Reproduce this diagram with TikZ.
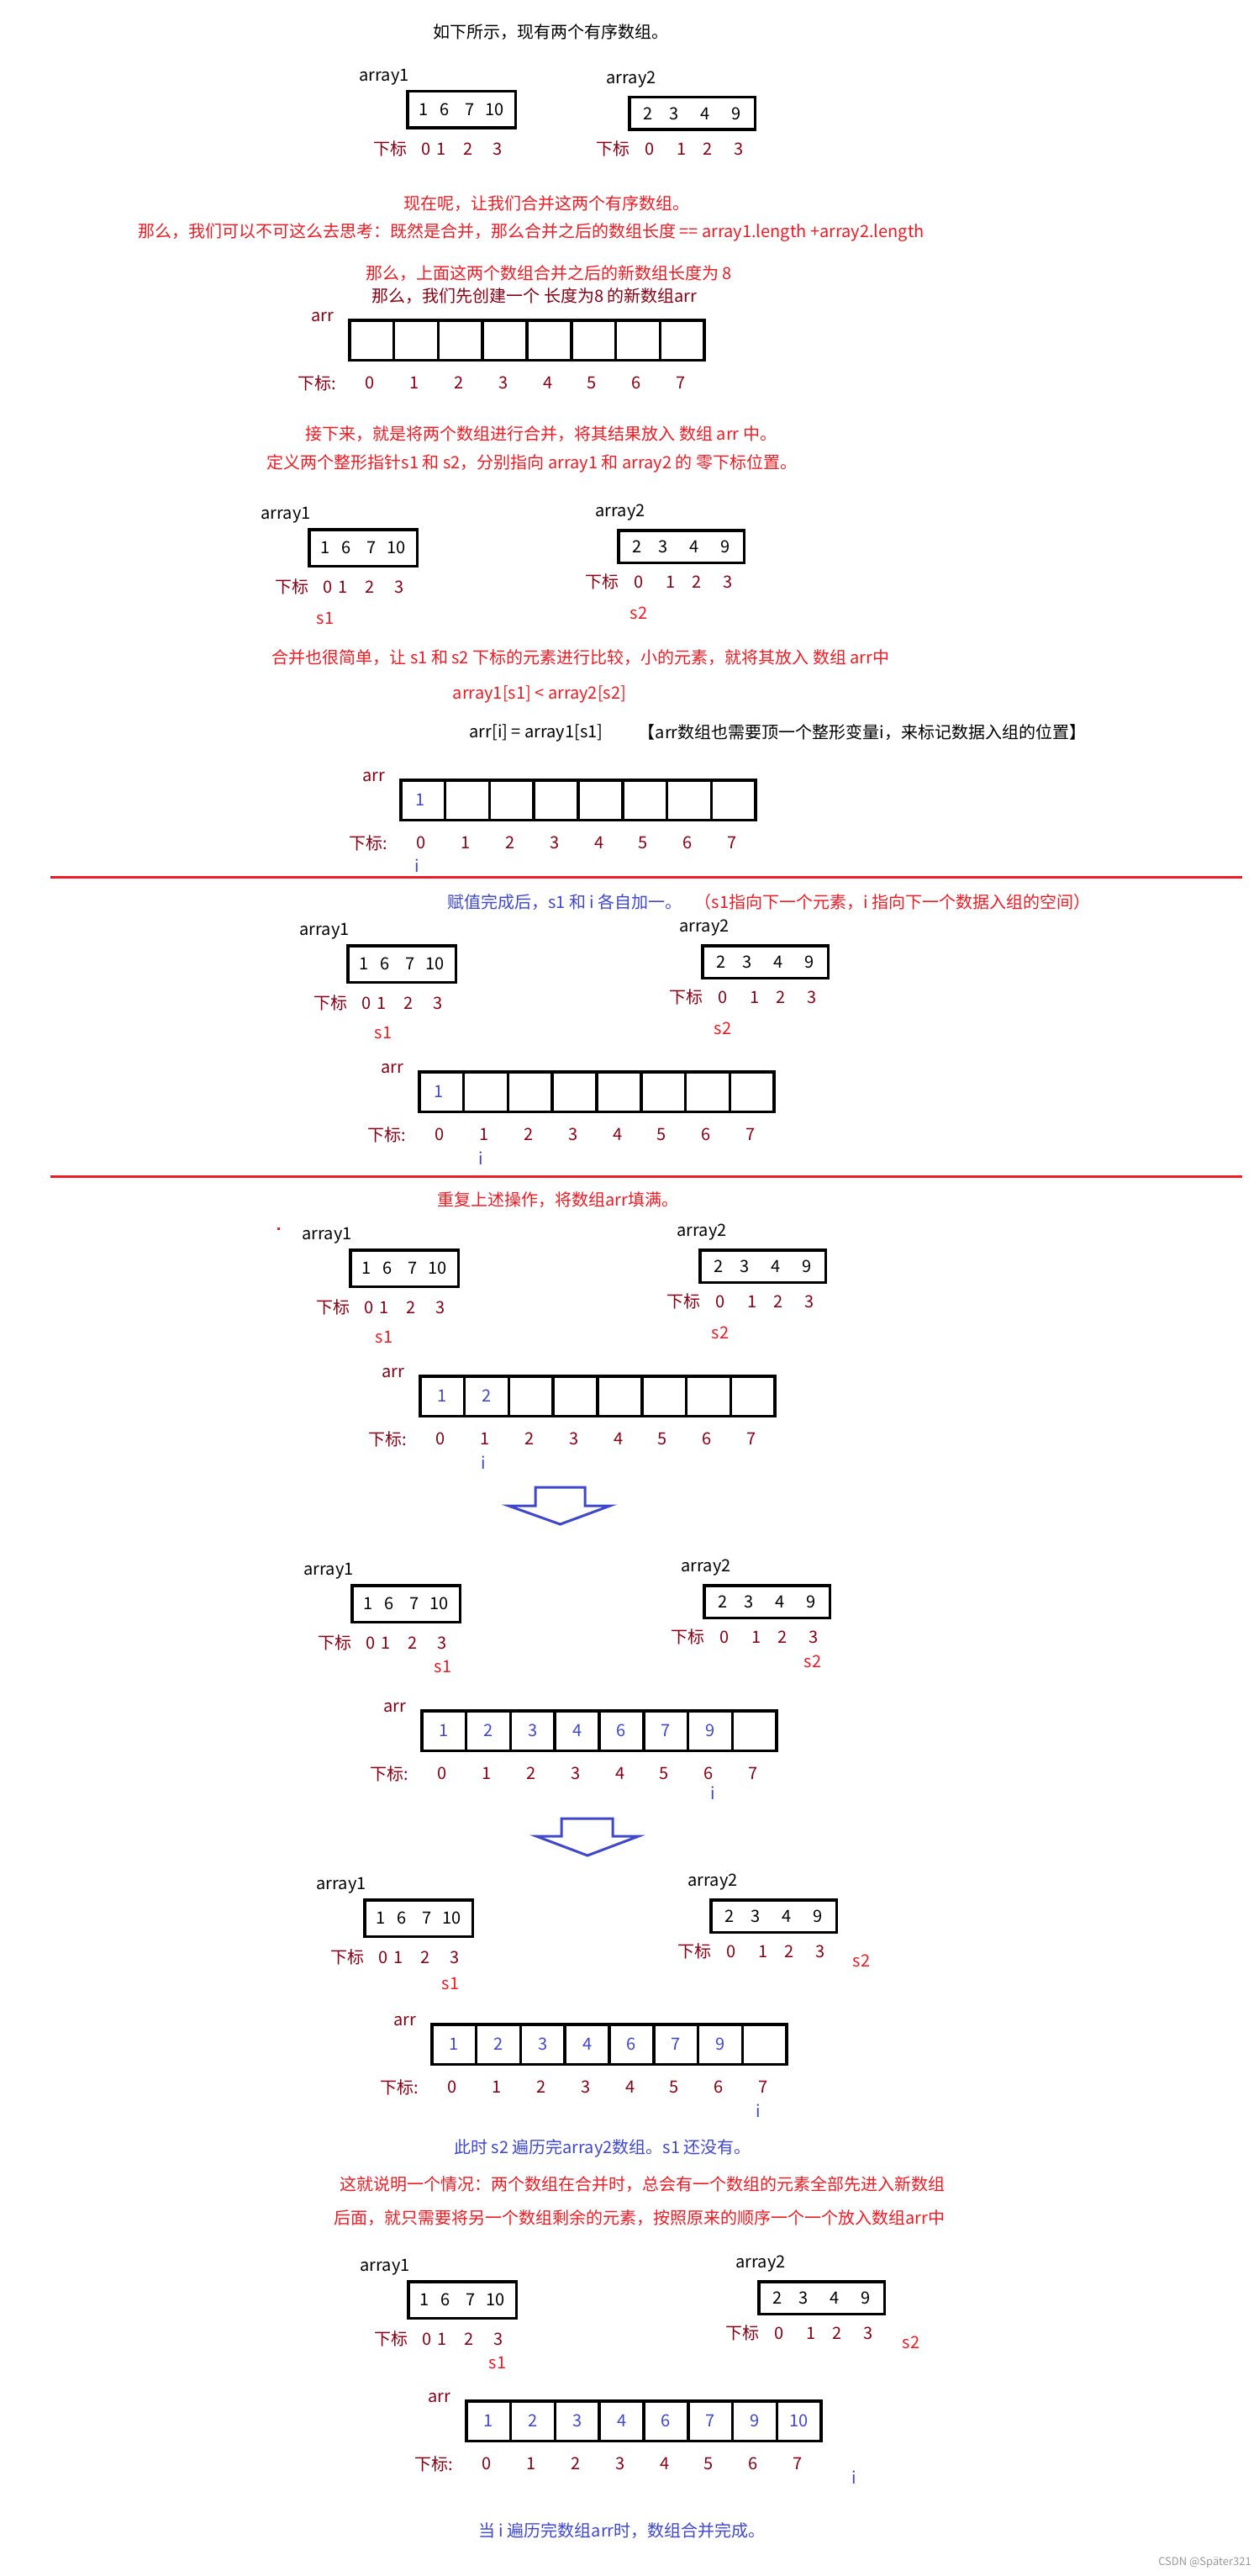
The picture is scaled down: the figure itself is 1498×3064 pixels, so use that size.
\documentclass[tikz,border=0pt]{standalone}
\usepackage{fontspec}
\setmainfont{Noto Sans CJK SC}

\definecolor{mred}{RGB}{237,28,36}
\definecolor{mdark}{RGB}{136,0,21}
\definecolor{mblue}{RGB}{63,72,204}

\tikzset{
	abox/.style={draw, line width=3.5pt, inner sep=0pt, outer sep=0pt, anchor=north west},
	cell/.style={draw, line width=3.5pt, minimum width=52.8pt, minimum height=47.5pt, inner sep=0pt, outer sep=0pt},
	sub/.style={text=mdark, anchor=west},
	val/.style={text=mblue},
	note/.style={text=mred},
	bluenote/.style={text=mblue},
	hollow/.style={draw=mblue, line width=3pt, line join=miter},
	sepline/.style={draw=mred, line width=3pt}
}

% array1 / array2 with their labels and index rows
\newcommand{\pairrow}[5]{%
	\node[abox, minimum width=128.5pt, minimum height=43.5pt] (#1a) at ({#2+1.75},{#3+1.75}) {1\hspace{14pt}6\hspace{19pt}7\hspace{13pt}10};
	\node (#1al) at ({#2-26},{#3-15}) {array1};
	\node[sub] (#1ai) at ({#2-39},{#3+70}) {下标\hspace{17pt}0\hspace{7pt}1\hspace{21pt}2\hspace{24pt}3};
	\node[abox, minimum width=149.5pt, minimum height=38.5pt] (#1b) at ({#4+1.75},{#5+1.75}) {2\hspace{20pt}3\hspace{25pt}4\hspace{26pt}9};
	\node (#1bl) at ({#4+4},{#5-19}) {array2};
	\node[sub] (#1bi) at ({#4-38},{#5+63}) {下标\hspace{18pt}0\hspace{27pt}1\hspace{20pt}2\hspace{26pt}3};
}

% the eight cells of arr with label and index row
\newcommand{\arrstrip}[3]{%
	\node[text=mdark] (#1l) at ({#2-30},{#3-2}) {arr};
	\foreach \k in {0,...,7}
		\node[cell] (#1c\k) at ({#2+1.75+52.8*(\k+0.5)},{#3+25.5}) {};
	\node[text=mdark] (#1s) at ({#2-37},{#3+76.5}) {下标:};
	\foreach \k in {0,...,7}
		\node[text=mdark] (#1d\k) at ({#2+52.8*(\k+0.5)},{#3+76.5}) {\k};
}

\begin{document}
\begin{tikzpicture}[x=1pt, y=-1pt, every node/.style={font=\fontsize{20}{24}\selectfont, inner sep=0pt}]
	\fill[white] (0,0) rectangle (1498,3064);
	\useasboundingbox (0,0) rectangle (1498,3064);

	% start
	\node (t1) at (655,38) {如下所示，现有两个有序数组。};
	\pairrow{A}{483}{107}{747}{114}
	\node[note] (t2) at (650,242) {现在呢，让我们合并这两个有序数组。};
	\node[note] (t3) at (632,277) {那么，我们可以不可这么去思考：既然是合并，那么合并之后的数组长度 == array1.length +array2.length};
	\node[note] (t4) at (653,325) {那么，上面这两个数组合并之后的新数组长度为 8};
	\node[text=mdark] (t5) at (636,352) {那么，我们先创建一个 长度为8 的新数组arr};
	\arrstrip{A}{414}{379}

	% pointers
	\node[note] (t6) at (644,516) {接下来，就是将两个数组进行合并，将其结果放入 数组 arr 中。};
	\node[note] (t7) at (633,551) {定义两个整形指针s1 和 s2，分别指向 array1 和 array2 的 零下标位置。};
	\pairrow{B}{366}{628}{734}{629}
	\node[note] (Bs1) at (387,735) {s1};
	\node[note] (Bs2) at (760,729) {s2};
	\node[note] (t8) at (691,782) {合并也很简单，让 s1 和 s2 下标的元素进行比较，小的元素，就将其放入 数组 arr中};
	\node[note] (t9) at (642,826) {array1[s1] < array2[s2]};
	\node (t10) at (638,872) {arr[i] = array1[s1]};
	\node (t11) at (1026,871) {【arr数组也需要顶一个整形变量i，来标记数据入组的位置】};
	\arrstrip{B}{475}{926}
	\node[val, xshift=-3pt] (Bv0) at (Bc0) {1};
	\node[bluenote] (Bi) at (496,1030) {i};

	\draw[sepline] (60,1043) -- (1478,1043);

	% after one step
	\node[bluenote] (t12) at (672,1073) {赋值完成后，s1 和 i 各自加一。};
	\node[note] (t13) at (1062,1073) {（s1指向下一个元素，i 指向下一个数据入组的空间）};
	\pairrow{C}{412}{1123}{834}{1123}
	\node[note] (Cs1) at (456,1228) {s1};
	\node[note] (Cs2) at (860,1223) {s2};
	\arrstrip{C}{497}{1273}
	\node[val, xshift=-3pt] (Cv0) at (Cc0) {1};
	\node[bluenote] (Ci) at (572,1378) {i};

	\draw[sepline] (60,1399) -- (1478,1399);

	% repeat
	\node[note] (t14) at (664,1427) {重复上述操作，将数组arr填满。};
	\fill[mred] (329.5,1459.5) rectangle (332.5,1462.5);
	\pairrow{D}{415}{1485}{831}{1485}
	\node[note] (Ds1) at (457,1590) {s1};
	\node[note] (Ds2) at (857,1585) {s2};
	\arrstrip{D}{498}{1635}
	\foreach \k/\v in {0/1,1/2}
		\node[val] (Dv\k) at (Dc\k) {\v};
	\node[bluenote] (Di) at (575,1740) {i};
	\draw[hollow] (637,1769) -- (696,1769) -- (696,1791) -- (726,1791) -- (666.5,1813) -- (605,1791) -- (637,1791) -- cycle;

	\pairrow{E}{417}{1884}{836}{1884}
	\node[note] (Es1) at (527,1982) {s1};
	\node[note] (Es2) at (967,1976) {s2};
	\arrstrip{E}{500}{2033}
	\foreach \k/\v in {0/1,1/2,2/3,3/4,4/6,5/7,6/9}
		\node[val] (Ev\k) at (Ec\k) {\v};
	\node[bluenote] (Ei) at (848,2133) {i};
	\draw[hollow] (668,2163) -- (729,2163) -- (729,2184) -- (760,2184) -- (699,2207) -- (638,2184) -- (668,2184) -- cycle;

	\pairrow{F}{432}{2258}{844}{2258}
	\node[note] (Fs1) at (536,2359) {s1};
	\node[note] (Fs2) at (1025,2332) {s2};
	\arrstrip{F}{512}{2406}
	\foreach \k/\v in {0/1,1/2,2/3,3/4,4/6,5/7,6/9}
		\node[val] (Fv\k) at (Fc\k) {\v};
	\node[bluenote] (Fi) at (902,2511) {i};
	\node[bluenote] (t15) at (717,2555) {此时 s2 遍历完array2数组。s1 还没有。};

	% the rest
	\node[note] (t16) at (764,2598) {这就说明一个情况：两个数组在合并时，总会有一个数组的元素全部先进入新数组};
	\node[note] (t17) at (761,2638) {后面，就只需要将另一个数组剩余的元素，按照原来的顺序一个一个放入数组arr中};
	\pairrow{G}{484}{2712}{901}{2712}
	\node[note] (Gs1) at (592,2810) {s1};
	\node[note] (Gs2) at (1084,2786) {s2};
	\arrstrip{G}{553}{2854}
	\foreach \k/\v in {0/1,1/2,2/3,3/4,4/6,5/7,6/9,7/10}
		\node[val] (Gv\k) at (Gc\k) {\v};
	\node[bluenote] (Gi) at (1016,2947) {i};
	\node[bluenote] (t18) at (740,3010) {当 i 遍历完数组arr时，数组合并完成。};

	\node[text=black!40, font=\fontsize{13}{15}\selectfont, anchor=east] (mark) at (1489,3048) {CSDN @Später321};
\end{tikzpicture}
\end{document}
